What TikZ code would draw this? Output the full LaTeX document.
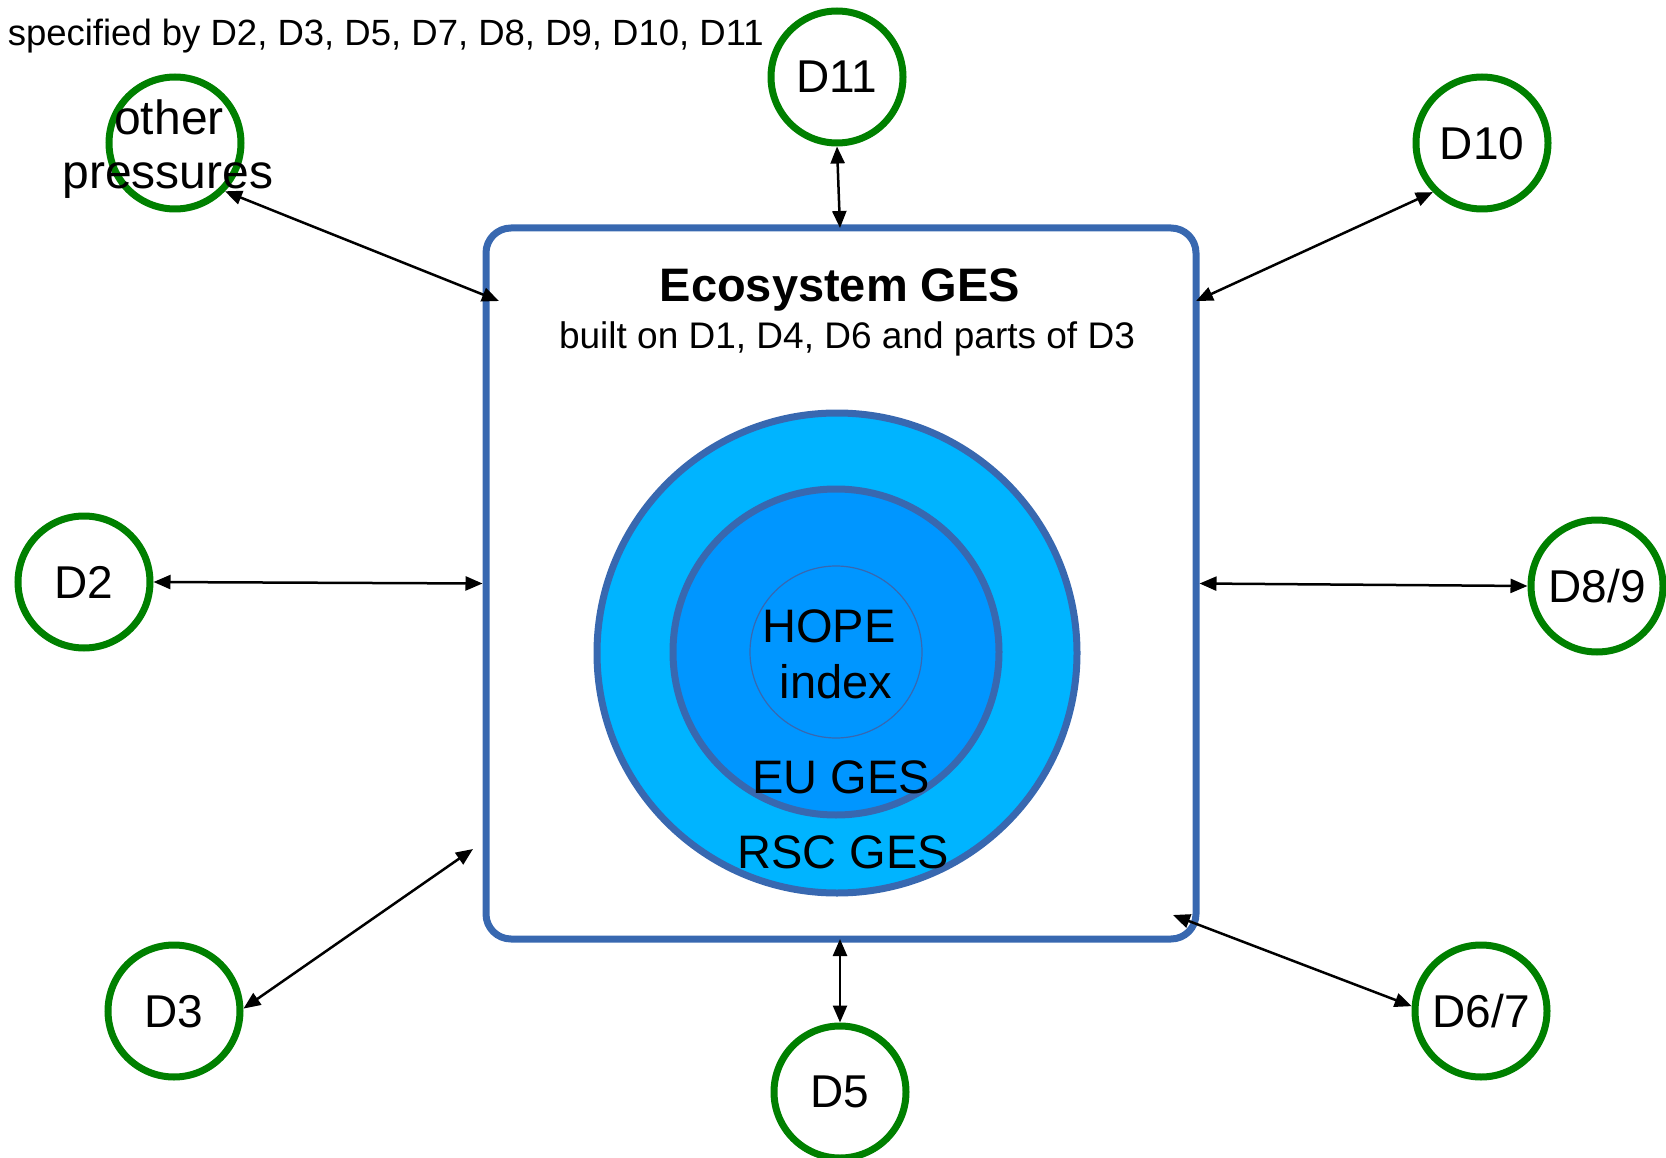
\documentclass[tikz,border=0pt]{standalone}
\usepackage{fontspec}
\setmainfont{Liberation Sans}
\usetikzlibrary{arrows.meta}
\definecolor{dgreen}{RGB}{0,128,0}
\definecolor{boxblue}{RGB}{56,104,176}
\definecolor{outerfill}{RGB}{0,180,255}
\definecolor{midfill}{RGB}{0,150,255}
\begin{document}
\begin{tikzpicture}[x=1pt,y=-1pt,
  dnode/.style={circle,draw=dgreen,line width=7pt,minimum size=132pt,inner sep=0pt,text depth=0pt,font=\fontsize{46}{54}\selectfont},
  conn/.style={line width=2.5pt,{Triangle[length=17pt,width=14pt]}-{Triangle[length=17pt,width=14pt]}},
  bigtext/.style={font=\fontsize{47}{56}\selectfont,inner sep=0pt},
  midtext/.style={font=\fontsize{37}{44}\selectfont,inner sep=0pt},
  ring/.style={circle,draw=boxblue,inner sep=0pt}]
\useasboundingbox (0,0) rectangle (1666,1158);

% main box
\node[draw=boxblue,line width=7pt,rounded corners=25pt,minimum width=710pt,minimum height=711pt,inner sep=0pt] (box) at (841,583.5) {};

% header texts
\node[midtext,font=\fontsize{36.5}{44}\selectfont,anchor=base east] (spec) at (764,46) {specified by D2, D3, D5, D7, D8, D9, D10, D11};
\node[bigtext,font=\fontsize{47}{56}\selectfont\bfseries,anchor=base] (eco) at (840,302) {Ecosystem GES};
\node[midtext,anchor=base] (built) at (847,349) {built on D1, D4, D6 and parts of D3};

% nested circles
\node[ring,line width=7pt,fill=outerfill,minimum size=480pt] (rscc) at (837,653) {};
\node[ring,line width=7pt,fill=midfill,minimum size=326pt] (euc) at (836,652) {};
\node[ring,line width=1.2pt,minimum size=172pt] (hopec) at (836,652) {};
\node[bigtext,anchor=base] (hope) at (829,642) {HOPE};
\node[bigtext,anchor=base] (idx) at (836,698) {index};
\node[bigtext,anchor=base] (eu) at (841,793) {EU GES};
\node[bigtext,anchor=base] (rsc) at (843,868) {RSC GES};

% green descriptor circles
\node[dnode] (d11) at (837,77) {D11};
\node[dnode] (d10) at (1482,143) {D10};
\node[dnode] (op) at (175,143) {};
\node[bigtext,font=\fontsize{48}{56}\selectfont,anchor=base] (optxt1) at (169,135) {other};
\node[bigtext,font=\fontsize{48}{56}\selectfont,anchor=base] (optxt2) at (168,189) {pressures};
\node[dnode] (d2) at (84,582) {D2};
\node[dnode] (d89) at (1597,586) {D8/9};
\node[dnode] (d3) at (174,1011) {D3};
\node[dnode] (d5) at (840,1092) {D5};
\node[dnode] (d67) at (1481,1011) {D6/7};

% box-side end points
\coordinate (bop) at (499,301);
\coordinate (b10) at (1196,301);
\coordinate (b3) at (473,849);
\coordinate (b67) at (1173,915);
\coordinate (b11) at (840,228);
\coordinate (b5) at (840,939);

% connectors
\draw[conn] (d11.south) -- (b11);
\draw[conn] (d10.225) -- (b10);
\draw[conn] (op.316) -- (bop);
\draw[conn] (d2.east) -- (box.west);
\draw[conn] (box.east) -- (d89.west);
\draw[conn] (d3.2) -- (b3);
\draw[conn] (b5) -- (d5.north);
\draw[conn] (b67) -- (d67.176);
\end{tikzpicture}
\end{document}
